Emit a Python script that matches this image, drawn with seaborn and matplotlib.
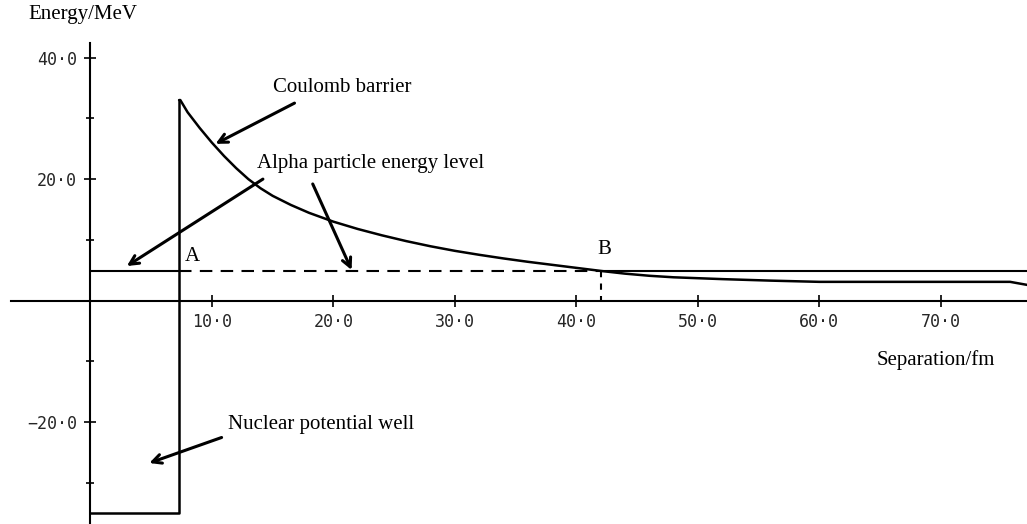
import matplotlib
matplotlib.use("Agg")
import matplotlib.pyplot as plt
import seaborn as sns
from matplotlib.ticker import FixedLocator

# potential energy of the alpha particle (fm, MeV)
well_r = [0.0, 7.3, 7.3]
well_v = [-35.0, -35.0, 33.0]
barrier_r = [7.3, 7.4, 8.0, 9.0, 10.0, 11.0, 12.0, 13.0, 14.0, 15.0, 16.5,
             18.0, 20.0, 22.0, 24.0, 26.0, 28.0, 30.0, 32.0, 34.0, 36.0,
             38.0, 40.0, 42.0, 44.0, 46.0, 48.0, 52.0, 56.0, 60.0, 75.7, 77.1]
barrier_v = [33.0, 33.0, 31.0, 28.4, 26.0, 23.8, 21.8, 20.0, 18.5, 17.25, 15.75,
             14.45, 13.0, 11.8, 10.75, 9.8, 8.95, 8.2, 7.55, 6.95, 6.4,
             5.9, 5.4, 4.9, 4.45, 4.1, 3.85, 3.55, 3.3, 3.1, 3.1, 2.6]
alpha_e = 4.9     # alpha particle energy level
r_wall = 7.3      # point A
r_b = 42.0        # point B
r_end = 77.1

x_ticks = [10, 20, 30, 40, 50, 60, 70]
x_labels = ["10·0", "20·0", "30·0", "40·0", "50·0", "60·0", "70·0"]
y_ticks = [-20, 20, 40]
y_labels = ["−20·0", "20·0", "40·0"]
y_minor = [-30, -10, 10, 30]

sns.set_style("white")
serif = "Liberation Serif"

fig = plt.figure(figsize=(10.27, 5.24), dpi=100)
ax = fig.add_axes([0, 0, 1, 1])
ax.set_xlim(-7.44, 77.09)
ax.set_ylim(-36.73, 49.46)

# axes through the origin
for s in ["top", "right"]:
    ax.spines[s].set_visible(False)
ax.spines["left"].set_position(("data", 0))
ax.spines["bottom"].set_position(("data", 0))
ax.spines["left"].set_bounds(-36.73, 42.4)
ax.spines["bottom"].set_bounds(-6.5, 77.09)
for s in ["left", "bottom"]:
    ax.spines[s].set_linewidth(1.5)
    ax.spines[s].set_color("black")

ax.set_xticks(x_ticks)
ax.set_xticklabels(x_labels, family="DejaVu Sans Mono", fontsize=12)
ax.set_yticks(y_ticks)
ax.set_yticklabels(y_labels, family="DejaVu Sans Mono", fontsize=12)
ax.yaxis.set_minor_locator(FixedLocator(y_minor))
ax.tick_params(bottom=True, left=True)
ax.tick_params(axis="y", which="minor", left=True)
ax.tick_params(axis="both", which="major", direction="inout", length=9,
               width=1.2, color="black", pad=4)
ax.tick_params(axis="y", which="minor", direction="inout", length=6,
               width=1.2, color="black")
ax.tick_params(axis="y", pad=5)

# potential well and Coulomb barrier
sns.lineplot(x=well_r, y=well_v, sort=False, estimator=None, color="black",
             lw=1.8, ax=ax)
sns.lineplot(x=barrier_r, y=barrier_v, sort=False, estimator=None,
             color="black", lw=1.8, ax=ax)

# alpha energy level
ax.plot([0, r_wall], [alpha_e, alpha_e], color="black", lw=1.5)
ax.plot([r_wall, r_b], [alpha_e, alpha_e], color="black", lw=1.5,
        linestyle=(0, (6, 4)))
ax.plot([r_b, r_end], [alpha_e, alpha_e], color="black", lw=1.5)
ax.plot([r_b, r_b], [alpha_e, 0], color="black", lw=1.5,
        linestyle=(0, (3, 3)))

# labels
txt = dict(family=serif, fontsize=15, color="black")
ax.text(-5.1, 47.0, "Energy/MeV", va="center", ha="left", **txt)
ax.text(64.7, -9.8, "Separation/fm", va="center", ha="left", **txt)
ax.text(15.0, 35.1, "Coulomb barrier", va="center", ha="left", **txt)
ax.text(13.7, 22.6, "Alpha particle energy level", va="center", ha="left", **txt)
ax.text(11.3, -20.3, "Nuclear potential well", va="center", ha="left", **txt)
ax.text(7.8, 7.2, "A", va="center", ha="left", **txt)
ax.text(41.7, 8.5, "B", va="center", ha="left", **txt)

arrow = dict(arrowstyle="->", lw=2.2, color="black", shrinkA=0, shrinkB=0,
             mutation_scale=16)
ax.annotate("", xy=(10.3, 25.8), xytext=(16.8, 32.5), arrowprops=arrow)
ax.annotate("", xy=(3.0, 5.7), xytext=(14.2, 20.0), arrowprops=arrow)
ax.annotate("", xy=(21.5, 5.05), xytext=(18.3, 19.2), arrowprops=arrow)
ax.annotate("", xy=(4.85, -26.7), xytext=(10.8, -22.5), arrowprops=arrow)

fig.savefig("out.png", dpi=100)
